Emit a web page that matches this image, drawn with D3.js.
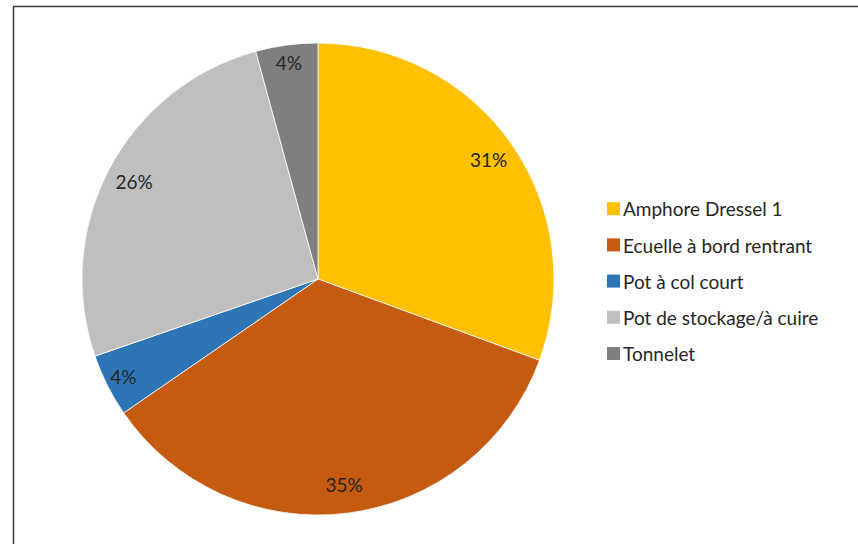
<!DOCTYPE html>
<html>
<head>
<meta charset="utf-8">
<script src="https://cdn.jsdelivr.net/npm/d3@7"></script>
<style>
  body { margin: 0; background: #fff; }
  svg { display: block; }
</style>
</head>
<body>
<div id="chart"></div>
<script>
// categories and shares (percent)
var categories = ["Amphore Dressel 1", "Ecuelle à bord rentrant", "Pot à col court", "Pot de stockage/à cuire", "Tonnelet"];
var shares = [30.6, 34.8, 4.3, 26.05, 4.25];
var labels = ["31%", "35%", "4%", "26%", "4%"];
var colors = ["#FFC000", "#C55A11", "#2E75B6", "#BFBFBF", "#7F7F7F"];

var width = 858, height = 544;
var cx = 318, cy = 279, radius = 236;

var svg = d3.select("#chart")
  .append("svg")
    .attr("width", width)
    .attr("height", height);

// chart frame (runs off the right and bottom edge)
svg.append("rect")
  .attr("x", 13.5)
  .attr("y", 6.5)
  .attr("width", 900)
  .attr("height", 600)
  .attr("fill", "none")
  .attr("stroke", "#3a3a3a")
  .attr("stroke-width", 1.5);

var data = categories.map(function(c, i) {
  return {name: c, value: shares[i], label: labels[i], color: colors[i]};
});

var pie = d3.pie()
  .sort(null)
  .value(function(d) { return d.value; });

var arc = d3.arc()
  .innerRadius(0)
  .outerRadius(radius);

var g = svg.append("g")
  .attr("transform", "translate(" + cx + "," + cy + ")");

var arcs = pie(data);

g.selectAll("path")
  .data(arcs)
  .enter().append("path")
    .attr("d", arc)
    .attr("fill", function(d) { return d.data.color; })
    .attr("stroke", "#fff")
    .attr("stroke-width", 0.8);

// percentage labels, near the rim
g.selectAll("text")
  .data(arcs)
  .enter().append("text")
    .attr("transform", function(d) {
      var r = d.data.value < 5 ? 218 : 208;
      var c = d3.arc().innerRadius(r).outerRadius(r).centroid(d);
      return "translate(" + c[0] + "," + c[1] + ")";
    })
    .attr("text-anchor", "middle")
    .attr("dy", "0.36em")
    .attr("font-family", "Lato")
    .attr("font-size", "19px")
    .attr("fill", "#262626")
    .text(function(d) { return d.data.label; });

// legend
var legend = svg.append("g")
  .attr("transform", "translate(607,208.7)");

var row = legend.selectAll("g")
  .data(data)
  .enter().append("g")
    .attr("transform", function(d, i) { return "translate(0," + (i * 36.2) + ")"; });

row.append("rect")
  .attr("x", 0)
  .attr("y", -6.5)
  .attr("width", 13)
  .attr("height", 13)
  .attr("fill", function(d) { return d.color; });

row.append("text")
  .attr("x", 16)
  .attr("dy", "0.4em")
  .attr("font-family", "Lato")
  .attr("font-size", "19px")
  .attr("fill", "#262626")
  .text(function(d) { return d.name; });
</script>
</body>
</html>
